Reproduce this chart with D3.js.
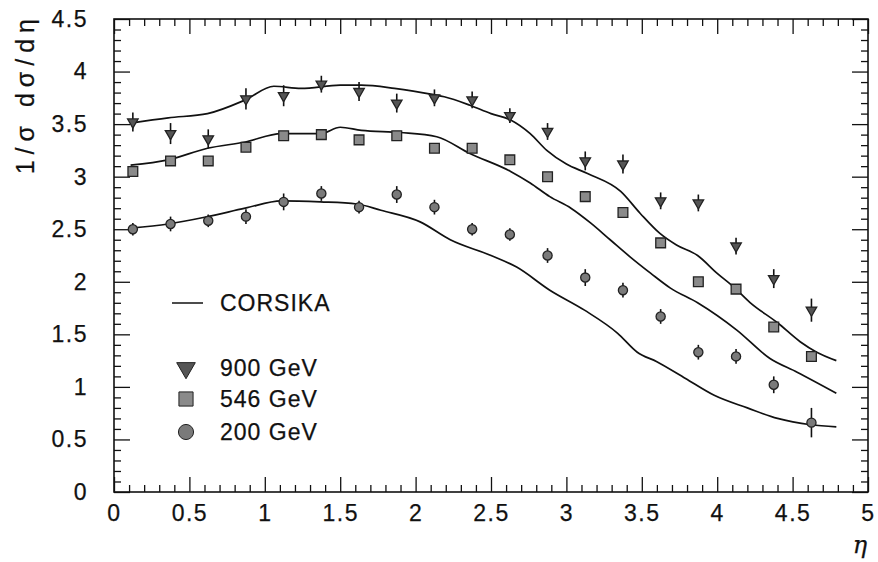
<!DOCTYPE html>
<html>
<head>
<meta charset="utf-8">
<script src="https://cdn.jsdelivr.net/npm/d3@7"></script>
<style>
  body { margin: 0; background: #fff; }
  text { font-family: "Liberation Sans", Arial, Helvetica, sans-serif; fill: #111; stroke: #111; stroke-width: 0.25px; }
</style>
</head>
<body>
<div id="chart"></div>
<script>
// measured points, bins of 0.25 in eta
var etaBins = [0.125, 0.375, 0.625, 0.875, 1.125, 1.375, 1.625, 1.875, 2.125, 2.375,
	2.625, 2.875, 3.125, 3.375, 3.625, 3.875, 4.125, 4.375, 4.625];
var data900 = [3.52, 3.41, 3.36, 3.74, 3.77, 3.88, 3.81, 3.70, 3.75, 3.73,
	3.58, 3.43, 3.15, 3.12, 2.77, 2.75, 2.34, 2.03, 1.73];
var err900 = [0.09, 0.1, 0.09, 0.1, 0.1, 0.08, 0.09, 0.09, 0.08, 0.08,
	0.07, 0.08, 0.09, 0.09, 0.08, 0.08, 0.08, 0.09, 0.11];
var data546 = [3.05, 3.15, 3.15, 3.28, 3.39, 3.40, 3.35, 3.39, 3.27, 3.27,
	3.16, 3.00, 2.81, 2.66, 2.37, 2.00, 1.93, 1.57, 1.29];
var err546 = [0.04, 0.04, 0.04, 0.04, 0.04, 0.04, 0.04, 0.04, 0.04, 0.04,
	0.04, 0.04, 0.04, 0.04, 0.04, 0.04, 0.04, 0.04, 0.05];
var data200 = [2.50, 2.55, 2.58, 2.62, 2.76, 2.84, 2.71, 2.83, 2.71, 2.50,
	2.45, 2.25, 2.04, 1.92, 1.67, 1.33, 1.29, 1.02, 0.66];
var err200 = [0.06, 0.07, 0.06, 0.07, 0.08, 0.07, 0.06, 0.08, 0.07, 0.06,
	0.06, 0.07, 0.08, 0.07, 0.07, 0.07, 0.07, 0.08, 0.14];

// CORSIKA curves
var corsEta900 = [0.11, 0.36, 0.62, 0.87, 1.06, 1.24, 1.50, 1.64, 1.86, 2.12, 2.19, 2.36, 2.50, 2.63, 2.76,
	2.87, 3.00, 3.14, 3.36, 3.49, 3.62, 3.73, 3.87, 4.00, 4.11, 4.22, 4.40, 4.55, 4.66, 4.79];
var cors900 = [3.51, 3.56, 3.60, 3.73, 3.86, 3.84, 3.87, 3.87, 3.84, 3.78, 3.76, 3.68, 3.60, 3.54, 3.41,
	3.25, 3.12, 3.03, 2.86, 2.65, 2.46, 2.35, 2.25, 2.08, 1.95, 1.80, 1.61, 1.43, 1.33, 1.25];
var corsEta546 = [0.11, 0.36, 0.62, 0.87, 1.11, 1.37, 1.50, 1.64, 1.90, 2.14, 2.36, 2.63, 2.76,
	2.89, 3.03, 3.16, 3.29, 3.42, 3.56, 3.69, 3.87, 4.13, 4.35, 4.53, 4.79];
var cors546 = [3.11, 3.16, 3.27, 3.33, 3.41, 3.41, 3.47, 3.44, 3.42, 3.38, 3.22, 3.05, 2.94,
	2.81, 2.70, 2.56, 2.40, 2.24, 2.08, 1.94, 1.80, 1.54, 1.27, 1.14, 0.94];
var corsEta200 = [0.11, 0.36, 0.62, 0.87, 1.11, 1.37, 1.61, 1.77, 2.03, 2.23, 2.50, 2.67, 2.89,
	3.12, 3.34, 3.47, 3.60, 3.79, 3.98, 4.20, 4.40, 4.62, 4.79];
var cors200 = [2.51, 2.55, 2.62, 2.70, 2.77, 2.76, 2.74, 2.68, 2.57, 2.40, 2.25, 2.14, 1.92,
	1.73, 1.51, 1.33, 1.24, 1.08, 0.92, 0.80, 0.70, 0.64, 0.62];

var xMajor = [0, 0.5, 1, 1.5, 2, 2.5, 3, 3.5, 4, 4.5, 5];
var yMajor = [0, 0.5, 1, 1.5, 2, 2.5, 3, 3.5, 4, 4.5];
var legendLabels = ["900 GeV", "546 GeV", "200 GeV"];

// ------------------------
var width = 878,
	height = 562,
	padL = 114, padR = 868, padT = 19, padB = 492;

var x = d3.scaleLinear().domain([0, 5]).range([padL, padR]);
var y = d3.scaleLinear().domain([0, 4.5]).range([padB, padT]);

var svg = d3.select("#chart").append("svg")
	.attr("width", width)
	.attr("height", height);

var minorX = d3.range(0, 51).map(function(i) { return i / 10; })
	.filter(function(v) { return Math.round(v * 10) % 5 != 0; });
var minorY = d3.range(0, 46).map(function(i) { return i / 10; })
	.filter(function(v) { return Math.round(v * 10) % 5 != 0; });
var fmt = function(d) { return String(+d.toFixed(1)); };

function axisStyle(g) {
	g.select(".domain").remove();
	g.selectAll("line").attr("stroke", "#111").attr("stroke-width", 1.3);
	g.selectAll("text").style("font-size", "23px").style("letter-spacing", "1.5px").attr("fill", "#111");
}

// bottom
svg.append("g").attr("transform", "translate(0," + padB + ")")
	.call(d3.axisBottom(x).tickValues(xMajor).tickSize(-15).tickPadding(13).tickFormat(fmt))
	.call(axisStyle);
svg.append("g").attr("transform", "translate(0," + padB + ")")
	.call(d3.axisBottom(x).tickValues(minorX).tickSize(-7).tickFormat(""))
	.call(axisStyle);
// top
svg.append("g").attr("transform", "translate(0," + padT + ")")
	.call(d3.axisTop(x).tickValues(xMajor).tickSize(-15).tickFormat(""))
	.call(axisStyle);
svg.append("g").attr("transform", "translate(0," + padT + ")")
	.call(d3.axisTop(x).tickValues(minorX).tickSize(-7).tickFormat(""))
	.call(axisStyle);
// left
svg.append("g").attr("transform", "translate(" + padL + ",0)")
	.call(d3.axisLeft(y).tickValues(yMajor).tickSize(-16).tickPadding(26).tickFormat(fmt))
	.call(axisStyle);
svg.append("g").attr("transform", "translate(" + padL + ",0)")
	.call(d3.axisLeft(y).tickValues(minorY).tickSize(-7).tickFormat(""))
	.call(axisStyle);
// right
svg.append("g").attr("transform", "translate(" + padR + ",0)")
	.call(d3.axisRight(y).tickValues(yMajor).tickSize(-16).tickFormat(""))
	.call(axisStyle);
svg.append("g").attr("transform", "translate(" + padR + ",0)")
	.call(d3.axisRight(y).tickValues(minorY).tickSize(-7).tickFormat(""))
	.call(axisStyle);

svg.append("rect")
	.attr("x", padL).attr("y", padT)
	.attr("width", padR - padL).attr("height", padB - padT)
	.attr("fill", "none").attr("stroke", "#111").attr("stroke-width", 1.6);

// axis titles
svg.append("text")
	.attr("transform", "translate(34,13) rotate(-90)")
	.attr("text-anchor", "end")
	.style("font-size", "25px")
	.style("letter-spacing", "6px")
	.text("1/σ dσ/dη");

svg.append("text")
	.attr("x", 860).attr("y", 553)
	.attr("text-anchor", "middle")
	.style("font-family", "'DejaVu Serif', 'Liberation Serif', serif")
	.style("font-style", "italic")
	.style("font-size", "24px")
	.text("η");

// CORSIKA lines
var line = d3.line()
	.x(function(d) { return x(d[0]); })
	.y(function(d) { return y(d[1]); })
	.curve(d3.curveMonotoneX);

[[corsEta900, cors900], [corsEta546, cors546], [corsEta200, cors200]].forEach(function(c) {
	svg.append("path")
		.datum(d3.zip(c[0], c[1]))
		.attr("d", line)
		.attr("fill", "none")
		.attr("stroke", "#111")
		.attr("stroke-width", 1.7);
});

// data points
var series = [
	{vals: data900, errs: err900, sym: d3.symbolTriangle, size: 48, rot: 180, fill: "#555"},
	{vals: data546, errs: err546, sym: d3.symbolSquare, size: 95, rot: 0, fill: "#8a8a8a"},
	{vals: data200, errs: err200, sym: d3.symbolCircle, size: 66, rot: 0, fill: "#7a7a7a"}
];

series.forEach(function(s) {
	var g = svg.append("g");
	var pts = etaBins.map(function(e, i) { return [e, s.vals[i], s.errs[i]]; });
	g.selectAll("line.err")
		.data(pts)
		.enter().append("line")
		.attr("x1", function(d) { return x(d[0]); })
		.attr("x2", function(d) { return x(d[0]); })
		.attr("y1", function(d) { return y(d[1] - d[2]); })
		.attr("y2", function(d) { return y(d[1] + d[2]); })
		.attr("stroke", "#111")
		.attr("stroke-width", 1.6);
	g.selectAll("path.pt")
		.data(pts)
		.enter().append("path")
		.attr("d", d3.symbol().type(s.sym).size(s.size))
		.attr("transform", function(d) {
			return "translate(" + x(d[0]) + "," + y(d[1]) + ") rotate(" + s.rot + ")";
		})
		.attr("fill", s.fill)
		.attr("stroke", "#222")
		.attr("stroke-width", 1.3);
});

// legend
svg.append("line")
	.attr("x1", 172).attr("x2", 203)
	.attr("y1", 303).attr("y2", 303)
	.attr("stroke", "#111").attr("stroke-width", 1.5);
svg.append("text")
	.attr("x", 220).attr("y", 303).attr("dy", "0.36em")
	.style("font-size", "23px").style("letter-spacing", "1px")
	.text("CORSIKA");

var legendY = [368, 399, 432];
var legendSize = [150, 200, 180];
series.forEach(function(s, i) {
	svg.append("path")
		.attr("d", d3.symbol().type(s.sym).size(legendSize[i]))
		.attr("transform", "translate(186," + legendY[i] + ") rotate(" + s.rot + ")")
		.attr("fill", s.fill)
		.attr("stroke", "#222")
		.attr("stroke-width", 1);
	svg.append("text")
		.attr("x", 220).attr("y", legendY[i]).attr("dy", "0.36em")
		.style("font-size", "23px").style("letter-spacing", "1px")
		.text(legendLabels[i]);
});
</script>
</body>
</html>
